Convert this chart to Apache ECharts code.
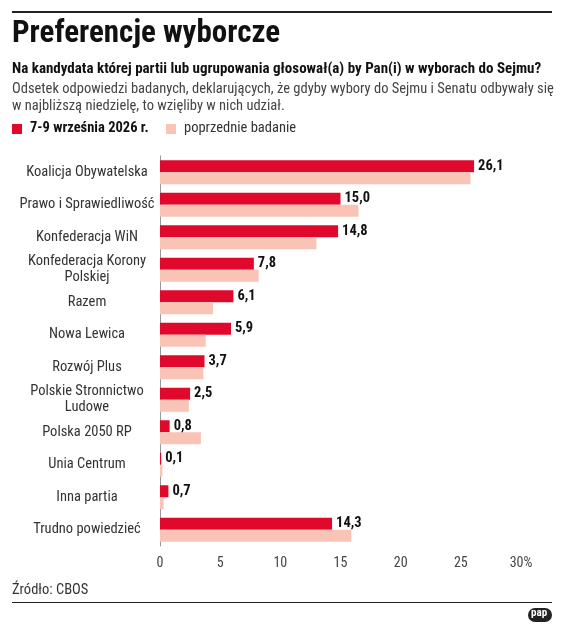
<!DOCTYPE html>
<html>
<head>
<meta charset="utf-8">
<script src="https://cdn.jsdelivr.net/npm/echarts@6/dist/echarts.min.js"></script>
<style>html,body{margin:0;padding:0;background:#fff}#chart{width:564px;height:632px}</style>
</head>
<body>
<div id="chart"></div>
<script>
// Preferencje wyborcze - CBOS
var categories = ['Koalicja Obywatelska', 'Prawo i Sprawiedliwość', 'Konfederacja WiN', 'Konfederacja Korony\nPolskiej', 'Razem', 'Nowa Lewica', 'Rozwój Plus', 'Polskie Stronnictwo\nLudowe', 'Polska 2050 RP', 'Unia Centrum', 'Inna partia', 'Trudno powiedzieć'];
var current = [26.1, 15.0, 14.8, 7.8, 6.1, 5.9, 3.7, 2.5, 0.8, 0.1, 0.7, 14.3];
var previous = [25.8, 16.5, 13.0, 8.2, 4.4, 3.8, 3.6, 2.4, 3.4, 0.2, 0.3, 15.9];
var tickLabels = ['0', '5', '10', '15', '20', '25', '30%'];

var font = '"Liberation Sans Narrow","Roboto Condensed","DejaVu Sans Condensed",sans-serif';
var myChart = echarts.init(document.getElementById('chart'));

var option = {
    animation: false,
    textStyle: { fontFamily: font },
    graphic: [
        { type: 'rect', shape: { x: 12, y: 11, width: 540, height: 2 }, style: { fill: '#222' } },
        { type: 'text', left: 12, top: 19, style: { text: 'Preferencje wyborcze', font: 'bold 31px ' + font, fill: '#111' } },
        { type: 'text', left: 12, top: 62, style: { text: 'Na kandydata której partii lub ugrupowania głosował(a) by Pan(i) w wyborach do Sejmu?', font: 'bold 15px ' + font, fill: '#111' } },
        { type: 'text', left: 12, top: 81, style: { text: 'Odsetek odpowiedzi badanych, deklarujących, że gdyby wybory do Sejmu i Senatu odbywały się\nw najbliższą niedzielę, to wzięliby w nich udział.', font: '14.5px ' + font, fill: '#444', lineHeight: 17 } },
        { type: 'rect', shape: { x: 12, y: 124, width: 10, height: 10 }, style: { fill: '#e0092c' } },
        { type: 'text', left: 30, top: 121, style: { text: '7-9 września 2026 r.', font: 'bold 14.5px ' + font, fill: '#111' } },
        { type: 'rect', shape: { x: 166, y: 124, width: 10, height: 10 }, style: { fill: '#f9c4b6' } },
        { type: 'text', left: 184, top: 121, style: { text: 'poprzednie badanie', font: '14.5px ' + font, fill: '#333' } },
        { type: 'text', left: 12, top: 583, style: { text: 'Źródło: CBOS', font: '14.5px ' + font, fill: '#333' } },
        { type: 'rect', shape: { x: 12, y: 602, width: 540, height: 1 }, style: { fill: '#222' } },
        { type: 'rect', shape: { x: 528, y: 608, width: 24, height: 14, r: 7 }, style: { fill: '#222' } },
        { type: 'text', left: 531, top: 608, style: { text: 'pap', font: 'bold 11px ' + font, fill: '#fff' } }
    ],
    grid: { left: 160, right: 43, top: 156, bottom: 86 },
    xAxis: {
        type: 'value', min: 0, max: 30, interval: 5,
        axisLine: { show: false }, axisTick: { show: false },
        splitLine: { show: false },
        axisLabel: { color: '#444', fontSize: 14, margin: 10, formatter: function (v) { return tickLabels[v / 5]; } }
    },
    yAxis: {
        type: 'category', data: categories, inverse: true,
        axisLine: { show: true, lineStyle: { color: '#999' } }, axisTick: { show: false },
        axisLabel: { color: '#333', fontSize: 14.5, margin: 73, lineHeight: 16, align: 'center' }
    },
    series: [
        {
            name: '7-9 września 2026 r.', type: 'bar', data: current, barWidth: 12, barGap: '0%',
            itemStyle: { color: '#e0092c' },
            label: { show: true, position: 'right', color: '#111', fontWeight: 'bold', fontSize: 14.5, distance: 4,
                formatter: function (p) { return p.value.toFixed(1).replace('.', ','); } }
        },
        {
            name: 'poprzednie badanie', type: 'bar', data: previous, barWidth: 12,
            itemStyle: { color: '#f9c4b6' }
        }
    ]
};
myChart.setOption(option);
</script>
</body>
</html>
